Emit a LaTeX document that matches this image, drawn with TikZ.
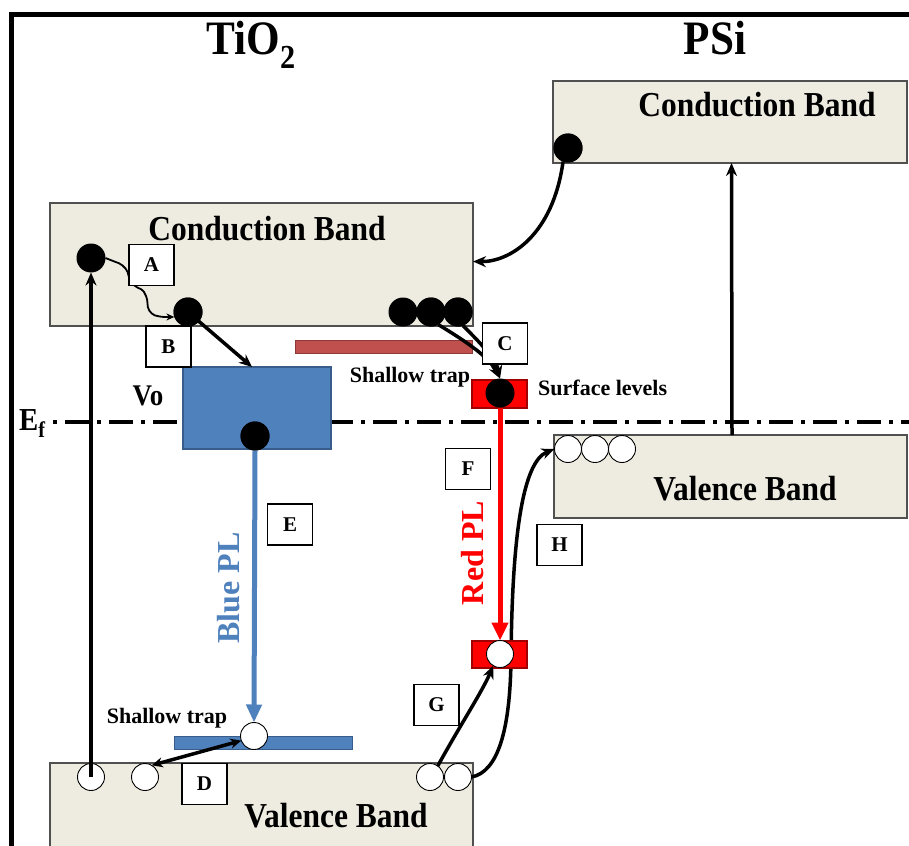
\documentclass[tikz,border=0pt]{standalone}
\usepackage{fontspec}
\setmainfont{Liberation Serif}
\newfontfamily\bigserif[FakeStretch=0.9]{Liberation Serif}
\usetikzlibrary{arrows.meta}
\definecolor{bandfill}{HTML}{EEECE1}
\definecolor{bandline}{HTML}{505050}
\definecolor{vofill}{HTML}{4F81BD}
\definecolor{vodraw}{HTML}{385D8A}
\definecolor{trapfill}{HTML}{C0504D}
\definecolor{trapdraw}{HTML}{8C3836}
\definecolor{surfred}{HTML}{FF0000}
\definecolor{surfdraw}{HTML}{A00000}
\definecolor{plblue}{HTML}{4F81BD}
\definecolor{plred}{HTML}{FF0000}
\begin{document}
\begin{tikzpicture}[x=1pt,y=-1pt,
  box/.style={rectangle, inner sep=0pt, outer sep=0pt},
  band/.style={box, draw=bandline, fill=bandfill, line width=1.5pt},
  vobox/.style={box, draw=vodraw, fill=vofill, line width=1.5pt},
  trapbar/.style={box, draw=trapdraw, fill=trapfill, line width=1pt},
  bluebar/.style={box, draw=vodraw, fill=vofill, line width=1pt},
  surfbox/.style={box, draw=surfdraw, fill=surfred, line width=1.2pt},
  lbl/.style={box, draw=black, fill=white, line width=1.3pt, minimum width=45pt, minimum height=41pt, font=\fontsize{21}{21}\selectfont\bfseries},
  elec/.style={circle, fill=black, minimum size=29pt, inner sep=0pt, outer sep=0pt},
  hole/.style={circle, draw=black, fill=white, line width=0.9pt, minimum size=27pt, inner sep=0pt, outer sep=0pt},
  conn/.style={line width=3.5pt, -{Stealth[length=13pt,width=11pt]}},
  wavy/.style={line width=1.8pt, rounded corners=2pt, -{Stealth[length=8pt,width=7pt]}},
  dconn/.style={line width=3.5pt, {Stealth[length=11pt,width=10pt]}-{Stealth[length=11pt,width=10pt]}},
  bluearr/.style={draw=plblue, line width=5pt, -{Triangle[length=18pt,width=15pt]}},
  redarr/.style={draw=plred, line width=5pt, -{Triangle[length=18pt,width=16pt]}},
  titletext/.style={font=\bigserif\bfseries\fontsize{48}{50}\selectfont, inner sep=0pt, anchor=base},
  bandtext/.style={font=\bigserif\bfseries\fontsize{35}{38}\selectfont, inner sep=0pt, anchor=base},
  smalltext/.style={font=\bfseries\fontsize{22}{24}\selectfont, inner sep=0pt, anchor=base},
  pltext/.style={font=\bfseries\fontsize{32}{34}\selectfont, inner sep=0pt, rotate=90}
]
\useasboundingbox (0,0) rectangle (909,845);
\fill[white] (0,0) rectangle (909,845);
% frame
\draw[line width=5pt] (11,850) -- (11,14.5) -- (915,14.5);
% Fermi level
\draw[line width=4pt, dash pattern=on 4pt off 8pt on 24pt off 8pt] (53,422) -- (915,422);
% titles
\node[titletext] (ttio) at (251,55) {TiO\textsubscript{2}};
\node[titletext] (tpsi) at (715,55) {PSi};
% bands
\node[band, minimum width=423pt, minimum height=123pt] (cb1) at (261.5,264.5) {};
\node[band, minimum width=354pt, minimum height=82pt] (pcb) at (730,122) {};
\node[band, minimum width=353pt, minimum height=83pt] (pvb) at (730.5,476.5) {};
\node[band, minimum width=423pt, minimum height=97pt] (vb1) at (261.5,811.5) {};
\node[bandtext] (tcb1) at (267,240) {Conduction Band};
\node[bandtext] (tpcb) at (757,117) {Conduction Band};
\node[bandtext] (tpvb) at (745,500) {Valence Band};
\node[bandtext] (tvb1) at (336,827) {Valence Band};
% levels
\node[vobox, minimum width=148pt, minimum height=82pt] (vo) at (257,408) {};
\node[trapbar, minimum width=177pt, minimum height=13pt] (trap1) at (383.5,346.5) {};
\node[bluebar, minimum width=178pt, minimum height=13pt] (trap2) at (263,742.5) {};
\node[font=\bigserif\bfseries\fontsize{30}{32}\selectfont, inner sep=0pt, anchor=base] (tvo) at (148,405) {Vo};
\node[font=\bigserif\bfseries\fontsize{32}{34}\selectfont, inner sep=0pt, anchor=base west] (tef) at (19,430) {E\textsubscript{f}};
\node[smalltext] (tst1) at (410,382) {Shallow trap};
\node[smalltext] (tst2) at (167,723) {Shallow trap};
\node[smalltext, anchor=base west] (tsl) at (538,395) {Surface levels};
% H path (behind lower red box)
\node[hole] (hG2) at (458,777) {};
\node[hole] (hP1) at (568,449) {};
\draw[conn] (hG2.east) .. controls (498,772) and (510,730) .. (511,660) .. controls (512,540) and (522,462) .. (hP1.west);
\node[surfbox, minimum width=55pt, minimum height=28pt] (surf1) at (499.5,394) {};
\node[surfbox, minimum width=55pt, minimum height=27pt] (surf2) at (499.5,654.5) {};
% carriers
\node[elec] (eA) at (91,258) {};
\node[elec] (eB) at (188,312) {};
\node[elec] (eVo) at (255,436) {};
\node[elec] (eC1) at (403,312) {};
\node[elec] (eC2) at (431,312) {};
\node[elec] (eC3) at (458,312) {};
\node[elec] (eS) at (500,393) {};
\node[elec] (ePSi) at (568,148) {};
\node[hole] (h1) at (91,777) {};
\node[hole] (h2) at (145,777) {};
\node[hole] (hT) at (254,736) {};
\node[hole] (hG1) at (430,777) {};
\node[hole] (hR) at (500,654) {};
\node[hole] (hP2) at (595,449) {};
\node[hole] (hP3) at (622,449) {};
% connectors
\draw[conn] (h1.center) -- (eA.south);
\draw[wavy] (eA.east) -- (113,261) -- (121,264) -- (127,270) -- (130,281) -- (136,287) -- (143,290) -- (147,298) -- (148,309) -- (153,315) -- (162,317) -- (eB.200);
\draw[conn] (eB.center) -- ([xshift=-5pt]vo.north);
\draw[conn] (eC2.300) .. controls (460,338) and (488,355) .. (eS.north);
\draw[conn] (eC3.290) .. controls (472,335) and (494,355) .. (eS.north);
\draw[conn] (ePSi.250) .. controls (553,235) and (510,262) .. ([yshift=3pt]cb1.east);
\draw[conn] ([xshift=1.5pt]pvb.north) -- ([xshift=1.5pt]pcb.south);
\draw[bluearr] (eVo.south) -- (hT.north);
\draw[redarr] (eS.south) -- (hR.north);
\draw[dconn] (h2.60) -- (hT.200);
\draw[conn] (hG1.55) .. controls (462,722) and (482,692) .. (hR.240);
% redraw carriers over connector starts
\node[elec] at (eB) {};
\node[elec] at (eC2) {};
\node[elec] at (eC3) {};
\node[elec] at (eVo) {};
\node[elec] at (ePSi) {};
% letter labels
\node[lbl] (lA) at (151.5,265) {A};
\node[lbl] (lB) at (168.5,346.5) {B};
\node[lbl] (lC) at (505,343.5) {C};
\node[lbl] (lD) at (204.5,784) {D};
\node[lbl] (lE) at (290,524.5) {E};
\node[lbl] (lF) at (468,469) {F};
\node[lbl] (lG) at (436.5,705) {G};
\node[lbl] (lH) at (559.5,545) {H};
% PL labels
\node[pltext, text=plblue] (tblue) at (229,588) {Blue PL};
\node[pltext, text=plred] (tred) at (473,553) {Red PL};
\end{tikzpicture}
\end{document}
